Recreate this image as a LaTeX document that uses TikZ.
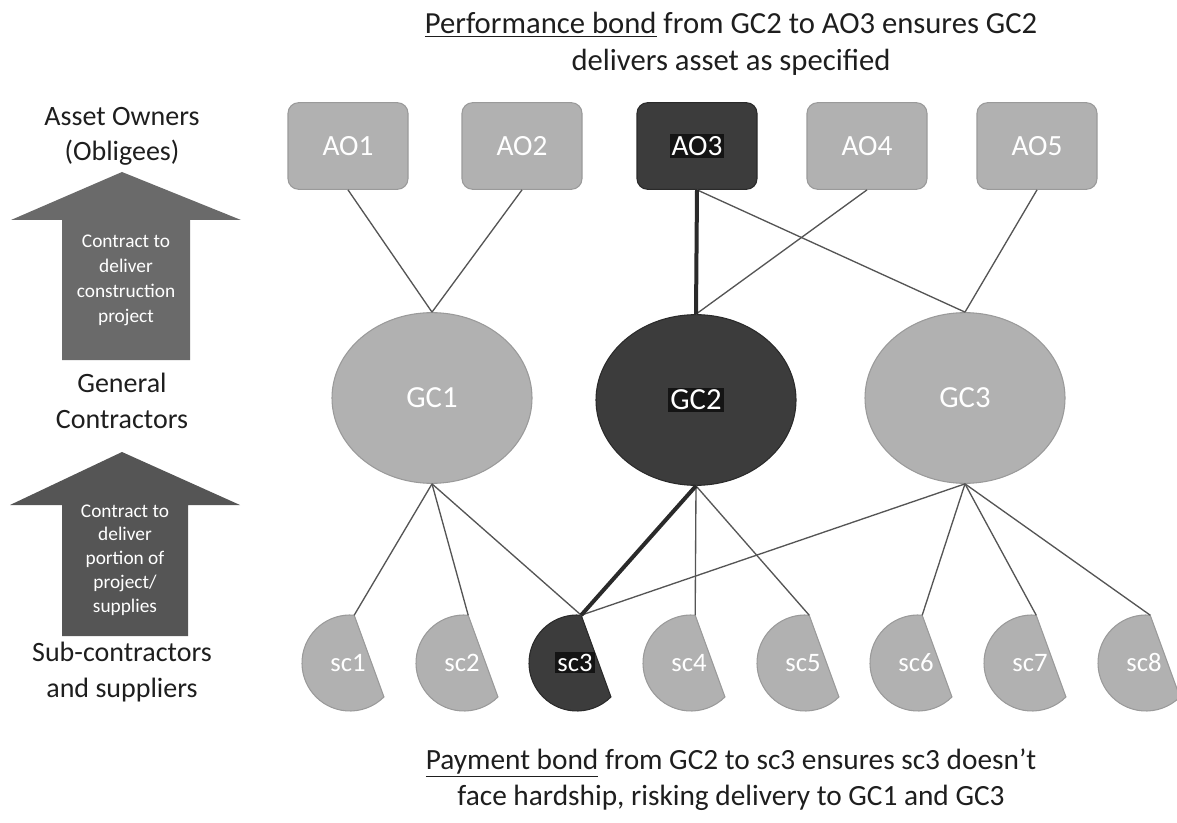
\documentclass[tikz,border=0pt]{standalone}
\usepackage{fontspec}
\setmainfont{Carlito}
\usetikzlibrary{shapes.geometric,calc}
\definecolor{lightfill}{HTML}{B1B1B1}
\definecolor{lightedge}{HTML}{9A9A9A}
\definecolor{darkfill}{HTML}{3C3C3C}
\definecolor{darkedge}{HTML}{2A2A2A}
\definecolor{arrowA}{HTML}{6A6A6A}
\definecolor{arrowB}{HTML}{555555}
\definecolor{linkcol}{HTML}{555555}
\definecolor{txtcol}{HTML}{1E1E1E}
\definecolor{hilite}{HTML}{141414}
\newcommand{\darktag}[1]{{\setlength{\fboxsep}{1.5pt}\colorbox{hilite}{#1}}}
\tikzset{
  aobox/.style={rectangle, rounded corners=8pt, minimum width=90pt, minimum height=65pt, fill=lightfill, draw=lightedge, line width=0.8pt, text=white, font=\fontsize{22}{26}\selectfont},
  aodark/.style={aobox, fill=darkfill, draw=darkedge},
  gcell/.style={ellipse, minimum width=150pt, minimum height=128pt, fill=lightfill, draw=lightedge, line width=0.8pt, text=white, font=\fontsize{23}{27}\selectfont},
  gcdark/.style={gcell, fill=darkfill, draw=darkedge},
  sclabel/.style={text=white, font=\fontsize{20}{24}\selectfont, inner sep=1pt, text height=1.45ex, text depth=0.1ex},
  scshape/.style={fill=lightfill, draw=lightedge, line width=0.8pt},
  scdarkshape/.style={fill=darkfill, draw=darkedge, line width=0.8pt},
  link/.style={draw=linkcol, line width=1pt},
  boldlink/.style={draw=darkedge, line width=3pt},
  bigtext/.style={text=txtcol, align=center, font=\fontsize{23}{27.5}\selectfont},
  sidetext/.style={text=txtcol, align=center, font=\fontsize{21}{26.5}\selectfont},
  arrowtext/.style={text=white, align=center, font=\fontsize{14.5}{18.7}\selectfont},
}
\begin{document}
\begin{tikzpicture}[x=0.75pt,y=-0.75pt]
\useasboundingbox (0,0) rectangle (1177,823);

% titles
\node[bigtext] (toptitle) at (731,44) {\underline{Performance bond} from GC2 to AO3 ensures GC2\\delivers asset as specified};
\node[bigtext, font=\fontsize{22}{27}\selectfont] (bottitle) at (731,780) {\underline{Payment bond} from GC2 to sc3 ensures sc3 doesn’t\\face hardship, risking delivery to GC1 and GC3};

% left labels
\node[sidetext] (lblAO) at (122,136) {Asset Owners\\(Obligees)};
\node[sidetext] (lblGC) at (122,401) {General\\Contractors};
\node[sidetext] (lblSC) at (122,672) {Sub-contractors\\and suppliers};

% left arrows
\fill[arrowA] (122,172) -- (241,220) -- (190,220) -- (190,360) -- (62,360) -- (62,220) -- (11,220) -- cycle;
\node[arrowtext] (arrAtext) at (126,280) {Contract to\\deliver\\construction\\project};
\fill[arrowB] (122,452) -- (240,505) -- (188,505) -- (188,636) -- (62,636) -- (62,505) -- (10,505) -- cycle;
\node[arrowtext, font=\fontsize{14.5}{17.8}\selectfont] (arrBtext) at (125,560) {Contract to\\deliver\\portion of\\project/\\supplies};

% asset owners
\node[aobox] (AO1) at (348,146) {AO1};
\node[aobox] (AO2) at (522,146) {AO2};
\node[aodark] (AO3) at (697,146) {\darktag{AO3}};
\node[aobox] (AO4) at (867,146) {AO4};
\node[aobox] (AO5) at (1037,146) {AO5};

% general contractors
\node[gcell] (GC1) at (432,398) {GC1};
\node[gcdark] (GC2) at (696,400) {\darktag{GC2}};
\node[gcell] (GC3) at (965,398) {GC3};

% sub-contractors (chord shapes)
\foreach \i/\cx in {1/350,2/464,3/577,4/691,5/805,6/918,7/1032,8/1146} {
  \coordinate (sc\i c) at (\cx,663);
  \coordinate (sc\i top) at ($(sc\i c)+(-85:48)$);
}
\foreach \i in {1,2,4,5,6,7,8} {
  \path[scshape] (sc\i top) arc[start angle=-85, end angle=-315, radius=48] -- cycle;
}
\path[scdarkshape] (sc3top) arc[start angle=-85, end angle=-315, radius=48] -- cycle;
\foreach \i in {1,2,4,5,6,7,8} {
  \node[sclabel] (sc\i) at ($(sc\i c)+(-2,4)$) {sc\i};
}
\node[sclabel] (sc3) at ($(sc3c)+(-2,4)$) {\darktag{sc3}};

% links AO - GC
\draw[link] (AO1.south) -- (GC1.north);
\draw[link] (AO2.south) -- (GC1.north);
\draw[link] (AO3.south) -- (GC3.north);
\draw[link] (AO4.south) -- (GC2.north);
\draw[link] (AO5.south) -- (GC3.north);
\draw[boldlink] (AO3.south) -- (GC2.north);

% links GC - sc
\draw[link] (GC1.south) -- (sc1top);
\draw[link] (GC1.south) -- (sc2top);
\draw[link] (GC1.south) -- (sc3top);
\draw[link] (GC2.south) -- (sc4top);
\draw[link] (GC2.south) -- (sc5top);
\draw[link] (GC3.south) -- (sc3top);
\draw[link] (GC3.south) -- (sc6top);
\draw[link] (GC3.south) -- (sc7top);
\draw[link] (GC3.south) -- (sc8top);
\draw[boldlink] (GC2.south) -- (sc3top);
\end{tikzpicture}
\end{document}
